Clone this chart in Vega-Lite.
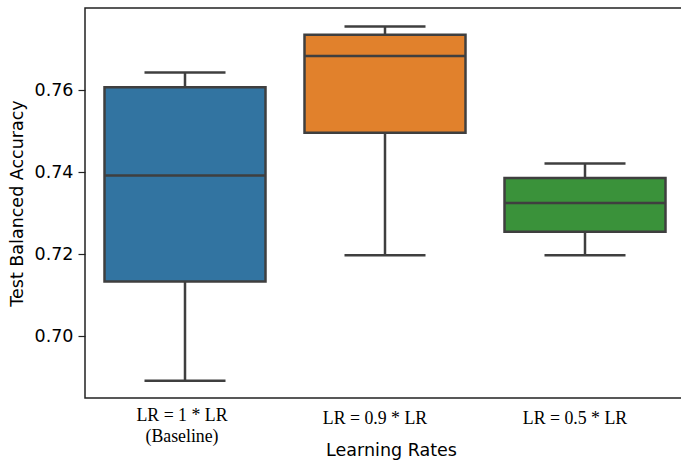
{
  "$schema": "https://vega.github.io/schema/vega-lite/v6.json",
  "width": 600,
  "height": 390,
  "autosize": "none",
  "padding": {"left": 85, "top": 8, "right": 0, "bottom": 62},
  "background": "white",
  "config": {
    "view": {"stroke": "#222222", "strokeWidth": 1.5},
    "axis": {"grid": false, "domain": false}
  },
  "data": {
    "values": [
      {"lr": "LR = 1 * LR (Baseline)", "min": 0.6892, "q1": 0.7134, "median": 0.7392, "q3": 0.7607, "max": 0.7643},
      {"lr": "LR = 0.9 * LR", "min": 0.7198, "q1": 0.7496, "median": 0.7683, "q3": 0.7735, "max": 0.7755},
      {"lr": "LR = 0.5 * LR", "min": 0.7198, "q1": 0.7255, "median": 0.7325, "q3": 0.7386, "max": 0.7421}
    ]
  },
  "encoding": {
    "x": {
      "field": "lr",
      "type": "nominal",
      "sort": null,
      "scale": {"paddingInner": 0, "paddingOuter": 0},
      "axis": {
        "title": "Learning Rates",
        "titleFont": "DejaVu Sans",
        "titleFontSize": 17.5,
        "titleFontWeight": "normal",
        "titleColor": "#000000",
        "titlePadding": -3,
        "titleX": 306,
        "labelAngle": 0,
        "labelFont": "Liberation Serif",
        "labelFontSize": 17.8,
        "labelColor": "#000000",
        "labelLineHeight": 21,
        "labelBaseline": "top",
        "labelPadding": {"condition": {"test": "datum.value == 'LR = 1 * LR (Baseline)'", "value": 8}, "value": 11},
        "labelOffset": {"condition": {"test": "datum.value == 'LR = 1 * LR (Baseline)'", "value": -3}, "value": -10},
        "labelExpr": "datum.value == 'LR = 1 * LR (Baseline)' ? ['LR = 1 * LR', '(Baseline)'] : datum.value",
        "ticks": false
      }
    }
  },
  "layer": [
    {
      "mark": {"type": "rule", "color": "#3f3f3f", "strokeWidth": 2.5},
      "encoding": {
        "y": {
          "field": "min",
          "type": "quantitative",
          "scale": {"domain": [0.685, 0.78], "nice": false, "zero": false},
          "axis": {
            "title": "Test Balanced Accuracy",
            "titleFont": "DejaVu Sans",
            "titleFontSize": 17.5,
            "titleFontWeight": "normal",
            "titleColor": "#000000",
            "titlePadding": 8,
            "values": [0.70, 0.72, 0.74, 0.76],
            "format": ".2f",
            "labelFont": "DejaVu Sans",
            "labelFontSize": 17.5,
            "labelColor": "#000000",
            "labelPadding": 5,
            "tickSize": 7,
            "tickWidth": 1.2,
            "tickColor": "#222222"
          }
        },
        "y2": {"field": "max"}
      }
    },
    {
      "mark": {"type": "tick", "color": "#3f3f3f", "size": 81, "thickness": 2.5, "opacity": 1},
      "encoding": {"y": {"field": "min", "type": "quantitative"}}
    },
    {
      "mark": {"type": "tick", "color": "#3f3f3f", "size": 81, "thickness": 2.5, "opacity": 1},
      "encoding": {"y": {"field": "max", "type": "quantitative"}}
    },
    {
      "mark": {"type": "bar", "width": {"band": 0.805}, "stroke": "#3f3f3f", "strokeWidth": 2.5, "opacity": 1},
      "encoding": {
        "y": {"field": "q1", "type": "quantitative"},
        "y2": {"field": "q3"},
        "color": {
          "field": "lr",
          "type": "nominal",
          "sort": null,
          "scale": {"range": ["#3274a1", "#e1812c", "#3a923a"]},
          "legend": null
        }
      }
    },
    {
      "mark": {"type": "tick", "color": "#3f3f3f", "size": 161, "thickness": 2.5, "opacity": 1},
      "encoding": {"y": {"field": "median", "type": "quantitative"}}
    }
  ]
}
